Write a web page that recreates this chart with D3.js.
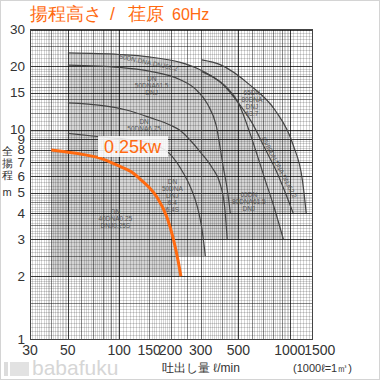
<!DOCTYPE html>
<html><head><meta charset="utf-8">
<script src="https://cdn.jsdelivr.net/npm/d3@7"></script>
<style>
body{margin:0;background:#fff}
svg{display:block}
text{font-family:"Liberation Sans",Arial,sans-serif}
</style></head>
<body><svg id="c" width="380" height="380"></svg>
<script>
// ---- data ----
const xTickLabels = [30, 50, 100, 150, 200, 300, 500, 1000, 1500];
const yTickLabels = [1, 2, 3, 4, 5, 6, 7, 8, 9, 10, 15, 20, 30];
const titleText = ["揚程高さ", "/", "荏原", "60Hz"];
const highlightLabel = "0.25kw";

// performance curves [Q (l/min), H (m)]
const curve40_025 = [[40,8.0],[62,7.6],[78,7.3],[98,6.75],[121,6.2],[133,5.8],[150,5.3],[167,4.75],[191,3.8],[208,3.0],[222,2.35],[230,2.0]];
const curve50_04  = [[50,9.6],[77,9.25],[110,9.0],[152,8.6],[200,7.6],[238,6.2],[265,5.2],[287,4.3],[305,3.4],[320,2.5]];
const curve50_075 = [[50,13.4],[80,13.0],[110,12.4],[152,11.4],[200,10.5],[228,9.9],[261,8.9],[300,7.8],[350,6.6],[391,5.5],[415,4.3],[430,3.0]];
const curve50_15  = [[50,20.3],[100,19.8],[150,19.0],[228,17.3],[280,15.6],[330,13.2],[370,10.5],[408,6.6],[430,5.2],[448,4.0]];
const curve50_22  = [[50,23.2],[100,22.8],[150,22.2],[228,20.9],[290,19.5],[356,17.8],[430,15.8],[500,13.4],[585,9.6],[650,7.4],[720,5.7],[800,4.4],[918,3.0]];
const curve80_22  = [[305,18.9],[400,16.6],[500,13.4],[600,10.8],[717,8.1],[830,6.4],[942,5.0],[1047,4.0]];
const curve80_37  = [[305,21.5],[391,20.4],[585,16.3],[819,12.4],[1047,8.45],[1186,5.75],[1249,4.0]];

// operating regions: [curve, bottom head]
const regions50 = [[curve40_025,2.0],[curve50_04,2.5],[curve50_075,3.0],[curve50_15,4.0],[curve50_22,3.0]];
const regions80 = [[curve80_22,4.0],[curve80_37,4.0]];

// model labels: lines of text
const lbl50_22 = ["50DN.DNA.DNJ62.2"];
const lbl50_15 = ["DN","50DNA61.5","DNJ"];
const lbl50_075 = ["DN","50DNA6.75"];
const lbl50_04 = ["DN","50DNA","DNJ","6.4","6.4S"];
const lbl40 = ["DN","40DNA0.25","DNJ0.25S"];
const lbl80_37 = ["65DN","80DNA","DNJ","63.7"];
const lbl80_22 = ["65/80DN.DNA.DNJ62.2"];
const lbl80_15 = ["65DN","80DNA61.5","DNJ"];

// ---- drawing ----
const svg = d3.select('#c');
svg.append('rect').attr('x',0.5).attr('y',0.5).attr('width',379).attr('height',379)
  .attr('fill','#fff').attr('stroke','#d4d4d4');

const X0 = 30, X1 = 312, Y0 = 29.5, Y1 = 339.5;
const x = d3.scaleLog().domain([30,1350]).range([X0,X1]);
const y = d3.scaleLog().domain([1,30]).range([Y1,Y0]);

svg.append('defs').append('clipPath').attr('id','clip')
  .append('rect').attr('x',X0).attr('y',Y0).attr('width',X1-X0).attr('height',Y1-Y0);
const g = svg.append('g').attr('clip-path','url(#clip)');

const line = d3.line().x(d=>x(d[0])).y(d=>y(d[1])).curve(d3.curveMonotoneX);
function regionPath(c, hb){
  const last = c[c.length-1];
  return line(c) + `L${x(last[0])},${y(hb)}L${x(c[0][0])},${y(hb)}Z`;
}
g.selectAll('path.r80').data(regions80).join('path').attr('class','r80')
  .attr('d',d=>regionPath(d[0],d[1])).attr('fill','#e2e2e2');
g.selectAll('path.r50').data(regions50).join('path').attr('class','r50')
  .attr('d',d=>regionPath(d[0],d[1])).attr('fill','#d4d4d4');

// grid values
function fineVals(decades){
  const out=[];
  for(const d of decades){
    for(let k=20;k<40;k++) out.push(+(k*0.05*d).toFixed(4));
    for(let k=20;k<50;k++) out.push(+(k*0.1*d).toFixed(4));
    for(let k=25;k<50;k++) out.push(+(k*0.2*d).toFixed(4));
  }
  return out;
}
const xFine = fineVals([10,100,1000]).filter(v=>v>=30&&v<=1350);
const yFine = fineVals([1,10]).filter(v=>v>=1&&v<=30);
const xMed = [40,60,70,80,90,150,250,400,600,700,800,900];
const xMid = [200,300];
const xMajor = [50,100,500,1000];
const yMed = [1.5,2.5,3.5,4.5,12,14,16,18,25];

const grid = g.append('g').attr('shape-rendering','crispEdges');
function vlines(vals,col){grid.append('g').selectAll('line').data(vals).join('line')
  .attr('x1',d=>Math.round(x(d))+0.5).attr('x2',d=>Math.round(x(d))+0.5).attr('y1',Y0).attr('y2',Y1).attr('stroke',col).attr('stroke-width',1);}
function hlines(vals,col){grid.append('g').selectAll('line').data(vals).join('line')
  .attr('y1',d=>Math.round(y(d))+0.5).attr('y2',d=>Math.round(y(d))+0.5).attr('x1',X0).attr('x2',X1).attr('stroke',col).attr('stroke-width',1);}
vlines(xFine,'rgba(0,0,0,0.16)');
hlines(yFine,'rgba(0,0,0,0.16)');
vlines(xMed,'rgba(0,0,0,0.36)');
hlines(yMed,'rgba(0,0,0,0.36)');
vlines(xMid,'rgba(0,0,0,0.5)');
vlines(xMajor,'rgba(0,0,0,0.7)');
hlines(yTickLabels,'rgba(0,0,0,0.7)');

// performance curves
const curves = [curve50_04,curve50_075,curve50_15,curve50_22,curve80_22,curve80_37];
g.selectAll('path.cv').data(curves).join('path').attr('class','cv')
  .attr('d',line).attr('fill','none').attr('stroke','#444').attr('stroke-width',1.2);
g.append('path').attr('d',`M${x(305)},${y(4)}L${x(305)},${y(21.5)}`).attr('stroke','#666').attr('stroke-width',0.6);

// plot frame
svg.append('rect').attr('x',X0).attr('y',Y0).attr('width',X1-X0).attr('height',Y1-Y0)
  .attr('fill','none').attr('stroke','#444').attr('stroke-width',1).attr('shape-rendering','crispEdges');

// model labels
function multiLabel(lines, px, py, anchor, rot){
  const t = svg.append('text').attr('font-size',6.5).attr('fill','#555').attr('text-anchor',anchor||'middle')
    .attr('transform',`translate(${px},${py}) rotate(${rot||0})`);
  t.selectAll('tspan').data(lines).join('tspan').attr('x',0).attr('dy',(d,i)=>i?7:0).text(d=>d);
}
multiLabel(lbl50_22, x(100), y(21.8), 'start', 12);
multiLabel(lbl50_15, x(155), y(17.0), 'middle', 0);
multiLabel(lbl50_075, x(140), y(10.6), 'middle', 0);
multiLabel(lbl50_04, x(205), y(5.5), 'middle', 0);
multiLabel(lbl40, x(95), y(3.95), 'middle', 0);
multiLabel(lbl80_37, x(600), y(14.6), 'middle', 0);
multiLabel(lbl80_22, x(680), y(9.1), 'start', 62);
multiLabel(lbl80_15, x(575), y(4.8), 'middle', 0);

// highlighted curve
svg.append('path').attr('d',line(curve40_025)).attr('fill','none')
  .attr('stroke','#ff6a10').attr('stroke-width',3).attr('stroke-linecap','butt');
svg.append('rect').attr('x',98).attr('y',136).attr('width',70).attr('height',21)
  .attr('fill','rgba(255,255,255,0.85)');
svg.append('text').attr('x',104).attr('y',153).attr('font-size',18).attr('fill','#ff6a10').text(highlightLabel);

// axes labels
svg.append('g').selectAll('text').data(xTickLabels).join('text')
  .attr('x',d=>x(d)).attr('y',355).attr('text-anchor','middle').attr('font-size',14).attr('fill','#333').text(d=>d);
svg.append('g').selectAll('text').data(yTickLabels).join('text')
  .attr('x',25).attr('y',d=>y(d)+4.5).attr('text-anchor','end').attr('font-size',13.5).attr('fill','#333').text(d=>d);

// y title (vertical)
const yTitle = ["全","揚","程","m"];
svg.append('g').selectAll('text').data(yTitle).join('text')
  .attr('x',7).attr('y',(d,i)=>[155,167,179,196][i]).attr('text-anchor','middle')
  .attr('font-family','"Noto Sans CJK JP",sans-serif').attr('font-size',11).attr('fill','#333').text(d=>d);

// x title
svg.append('text').attr('x',162).attr('y',372).attr('font-family','"Noto Sans CJK JP",sans-serif')
  .attr('font-size',12).attr('fill','#333').text('吐出し量 ℓ/min');
svg.append('text').attr('x',293).attr('y',372).attr('font-family','"Noto Sans CJK JP",sans-serif')
  .attr('font-size',11).attr('fill','#333').text('(1000ℓ=1㎥)');

// title
const tx = [30,110,128,172];
svg.append('g').selectAll('text').data(titleText).join('text')
  .attr('x',(d,i)=>tx[i]).attr('y',20).attr('font-family','"Noto Sans CJK JP",sans-serif')
  .attr('font-size',(d,i)=>i===3?16:17.5).attr('fill','#ff6a10').text(d=>d);

// watermark
svg.append('rect').attr('x',4).attr('y',362).attr('width',4).attr('height',14).attr('fill','#dcdcdc');
svg.append('rect').attr('x',10).attr('y',362).attr('width',19).attr('height',14).attr('fill','#e2e2e2');
svg.append('text').attr('x',32).attr('y',375).attr('font-family','Lato,sans-serif').attr('font-size',21)
  .attr('fill','#d6d6d6').text('babafuku');
</script></body></html>
